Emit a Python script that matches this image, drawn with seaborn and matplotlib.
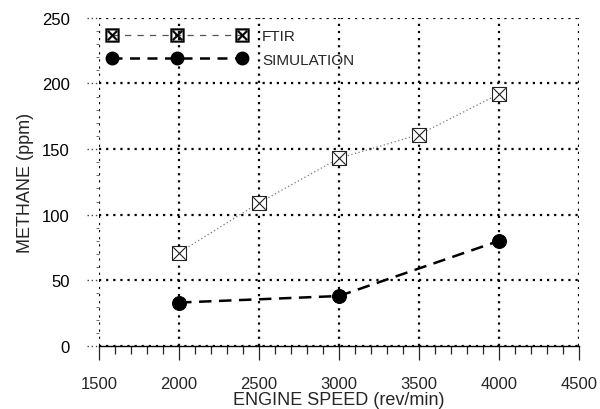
import numpy as np
import pandas as pd
import matplotlib
matplotlib.use("Agg")
import matplotlib.pyplot as plt
import matplotlib.transforms as mtransforms
from matplotlib.lines import Line2D
from matplotlib.ticker import MultipleLocator
import seaborn as sns

sns.set_style("white")
plt.rcParams["font.family"] = ["Liberation Sans", "DejaVu Sans"]

# data
ftir_speed = [2000, 2500, 3000, 3500, 4000]
ftir_ch4 = [71, 109, 143, 161, 192]
sim_speed = [2000, 3000, 4000]
sim_ch4 = [33, 38, 80]

ftir = pd.DataFrame({"speed": ftir_speed, "ch4": ftir_ch4})
sim = pd.DataFrame({"speed": sim_speed, "ch4": sim_ch4})

fig = plt.figure(figsize=(6, 4.1), dpi=100)
ax = fig.add_axes([0.165, 0.154, 0.800, 0.800])

# FTIR: thin dotted line, square markers with a cross
sns.lineplot(data=ftir, x="speed", y="ch4", ax=ax, color="#777777",
             linestyle=(0, (1, 2)), linewidth=0.9, zorder=3)
ax.scatter(ftir["speed"], ftir["ch4"], marker="s", s=100, facecolors="white",
           edgecolors="#222222", linewidths=0.8, zorder=4)
ax.scatter(ftir["speed"], ftir["ch4"], marker="x", s=80, color="#222222",
           linewidths=0.8, zorder=5)

# simulation: bold dashed line, filled circles
sns.lineplot(data=sim, x="speed", y="ch4", ax=ax, color="black",
             linestyle=(0, (5, 3)), linewidth=1.8, marker="o",
             markersize=10, markeredgecolor="black", zorder=4)

ax.set_xlim(1500, 4500)
ax.set_ylim(0, 250)
ax.xaxis.set_major_locator(MultipleLocator(500))
ax.xaxis.set_minor_locator(MultipleLocator(100))
ax.yaxis.set_major_locator(MultipleLocator(50))
ax.yaxis.set_minor_locator(MultipleLocator(10))

grid_ls = (0, (1, 2.2))
ax.grid(True, which="major", color="black", linestyle=grid_ls, linewidth=1.6)

# the dotted y grid runs a little past the left edge, like ticks
trans = mtransforms.blended_transform_factory(ax.transAxes, ax.transData)
for yv in ax.get_yticks():
    if 0 <= yv <= 250:
        ax.plot([-0.026, 0], [yv, yv], transform=trans, color="#444444",
                linestyle=(0, (1, 2)), linewidth=1.0, clip_on=False)

for side in ["top", "right", "left"]:
    ax.spines[side].set_visible(False)
ax.spines["bottom"].set_color("black")
ax.spines["bottom"].set_linewidth(1.0)

ax.tick_params(axis="x", which="major", direction="out", length=10, width=0.9,
               labelsize=12, pad=12, bottom=True)
ax.tick_params(axis="x", which="minor", direction="out", length=6, width=0.9,
               bottom=True)
ax.tick_params(axis="y", which="major", direction="out", length=0,
               labelsize=12, pad=21, left=True, colors="black")
ax.tick_params(axis="y", which="minor", direction="out", length=2.5, width=0.6,
               left=True, color="#555555")

ax.set_xlabel("ENGINE SPEED (rev/min)", fontsize=13, labelpad=0)
ax.set_ylabel("METHANE (ppm)", fontsize=13, labelpad=6)

# legend drawn in the top-left corner
h_ftir = Line2D([], [], color="#555555", linestyle=(0, (5, 5)), linewidth=0.9,
                marker="$\\boxtimes$", markersize=10, markerfacecolor="black",
                markeredgecolor="black", markeredgewidth=0.3)
h_sim = Line2D([], [], color="black", linestyle=(0, (4, 3)), linewidth=1.8,
               marker="o", markersize=9)
ax.legend([h_ftir, h_sim], ["FTIR", "SIMULATION"], loc="upper left",
          bbox_to_anchor=(0.018, 0.965), frameon=False, numpoints=3,
          handlelength=9.1, fontsize=11, handletextpad=1.0,
          labelspacing=0.62, borderaxespad=0.0, borderpad=0.0)

fig.savefig("out.png", dpi=100)
